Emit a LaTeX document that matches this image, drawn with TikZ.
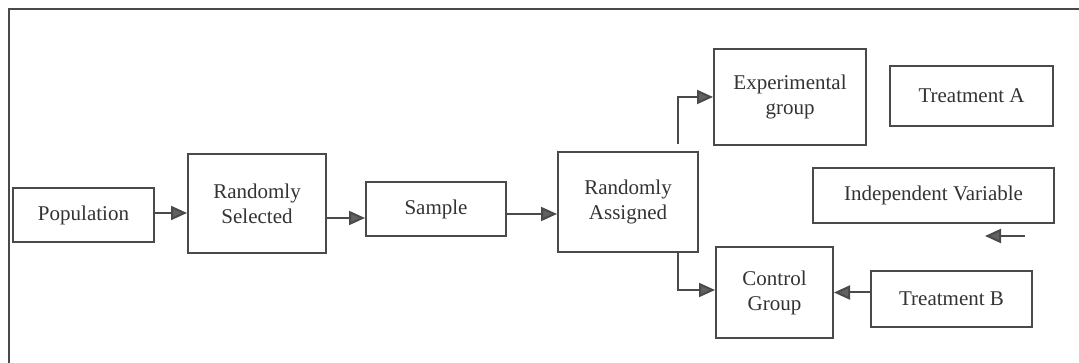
\documentclass[tikz,border=0pt]{standalone}
\usepackage{fontspec}
\setmainfont{Liberation Serif}
\usetikzlibrary{arrows.meta,calc}
\definecolor{ink}{HTML}{4A4A4A}
\definecolor{txt}{HTML}{333333}
\definecolor{tipfill}{HTML}{626262}
\begin{document}
\begin{tikzpicture}[x=1pt,y=-1pt,
  box/.style={draw=ink,line width=2pt,rectangle,inner sep=0pt,align=center,
    text=txt,font=\fontsize{21}{25}\selectfont},
  flow/.style={draw=ink,line width=2pt,
    -{Triangle[length=16pt,width=14pt,fill=tipfill]}}]
  \useasboundingbox (0,0) rectangle (1079,363);
  \fill[white] (0,0) rectangle (1079,363);
  % page frame (top and left edges)
  \draw[ink,line width=2pt] (1085,9) -- (9,9) -- (9,370);

  % boxes
  \node[box,minimum width=141pt,minimum height=54pt] (pop)  at (83.5,215)  {Population};
  \node[box,minimum width=138pt,minimum height=99pt] (rsel) at (257,203.5) {Randomly\\Selected};
  \node[box,minimum width=140pt,minimum height=54pt] (samp) at (436,209)   {Sample};
  \node[box,minimum width=140pt,minimum height=100pt] (rasg) at (628,202)  {Randomly\\Assigned};
  \node[box,minimum width=152pt,minimum height=96pt] (exp)  at (790,97)    {Experimental\\group};
  \node[box,minimum width=163pt,minimum height=60pt] (ta)   at (971.5,96)  {Treatment A};
  \node[box,minimum width=241pt,minimum height=55pt] (iv)   at (933.5,195.5) {Independent Variable};
  \node[box,minimum width=117pt,minimum height=91pt] (cg)   at (774.5,292.5) {Control\\Group};
  \node[box,minimum width=161pt,minimum height=56pt] (tb)   at (951.5,299) {Treatment B};

  % loose arrow below the independent variable box
  \coordinate (s1) at (1025,236);
  \coordinate (s2) at (985,236);

  % connectors
  \draw[flow] ([yshift=2pt]pop.east) -- ([yshift=2pt]pop.east -| rsel.west);
  \draw[flow] ([yshift=-14.5pt]rsel.east) -- ([yshift=-14.5pt]rsel.east -| samp.west);
  \draw[flow] ([yshift=-5pt]samp.east) -- ([yshift=-5pt]samp.east -| rasg.west);
  \draw[flow] ($(rasg.north east)+(-21,-7)$) |- (exp.west);
  \draw[flow] ($(rasg.south east)+(-21,0)$) |- ([yshift=2.5pt]cg.west);
  \draw[flow] (tb.west |- cg.east) -- (cg.east);
  \draw[flow] (s1) -- (s2);
\end{tikzpicture}
\end{document}
